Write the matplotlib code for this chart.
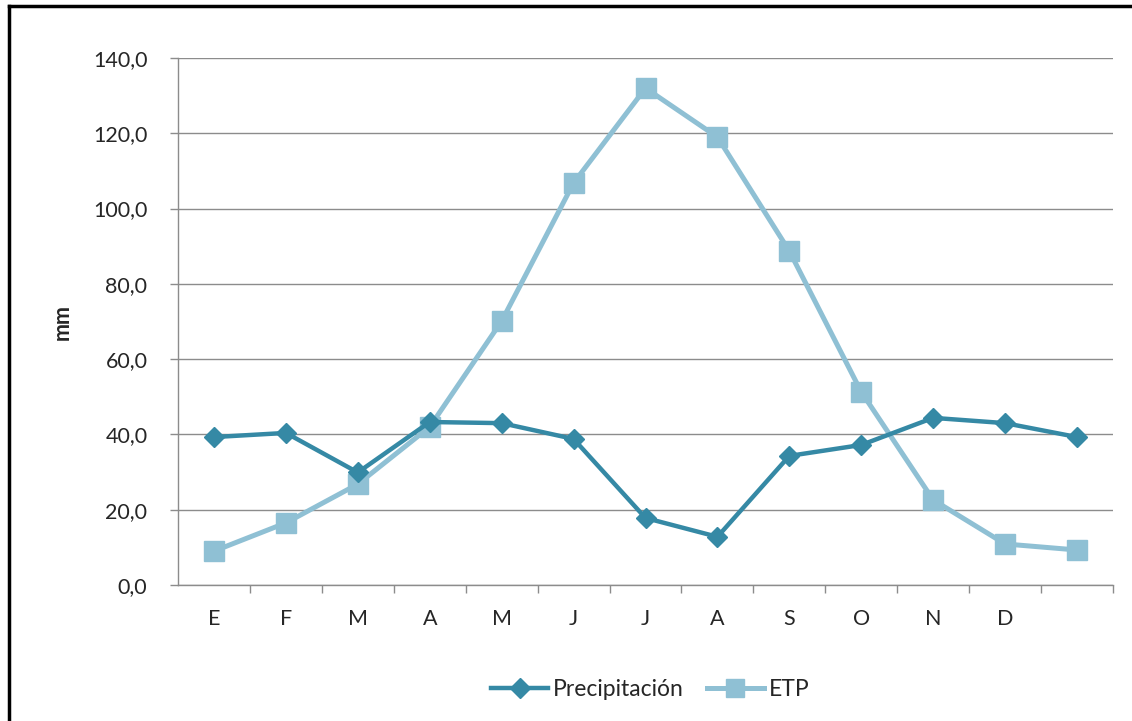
import matplotlib
matplotlib.use("Agg")
import matplotlib.pyplot as plt
from matplotlib.lines import Line2D

months = ["E", "F", "M", "A", "M", "J", "J", "A", "S", "O", "N", "D", ""]
precipitacion = [39.3, 40.4, 29.9, 43.3, 43.0, 38.8, 17.8, 12.8, 34.3, 37.2, 44.4, 43.0, 39.3]
etp = [9.0, 16.5, 26.8, 42.0, 70.1, 106.8, 132.0, 119.0, 88.7, 51.3, 22.6, 10.9, 9.3]
yticks = [0, 20, 40, 60, 80, 100, 120, 140]

W, H = 1132, 721
fig = plt.figure(figsize=(W / 100, H / 100), dpi=100)
plt.rcParams["font.family"] = ["Lato", "DejaVu Sans"]
fs = 15.5

ax = fig.add_axes([178 / W, 1 - 585 / H, (1113 - 178) / W, (585 - 58) / H])
x = list(range(len(months)))
c1 = "#3589A5"
c2 = "#8FC0D4"
ax.plot(x, etp, color=c2, lw=3.6, marker="s", ms=14, mec=c2, mfc=c2, label="ETP", zorder=3)
ax.plot(x, precipitacion, color=c1, lw=3.2, marker="D", ms=10, mec=c1, mfc=c1, label="Precipitación", zorder=4)

ax.set_xlim(-0.5, len(months) - 0.5)
ax.set_ylim(0, 140)
ax.set_yticks(yticks)
ax.set_yticklabels([f"{v:.1f}".replace(".", ",") for v in yticks])
ax.set_xticks(x)
ax.set_xticklabels(months)
ax.set_xticks([i + 0.5 for i in range(len(months))], minor=True)

grid_c = "#8c8c8c"
ax.grid(axis="y", color=grid_c, lw=1.0)
ax.set_axisbelow(True)
for s in ["top", "right"]:
    ax.spines[s].set_visible(False)
for s in ["left", "bottom"]:
    ax.spines[s].set_color(grid_c)
    ax.spines[s].set_linewidth(1.0)

txt_c = "#262626"
ax.tick_params(axis="x", which="major", length=0, pad=17, labelsize=fs, labelcolor=txt_c)
ax.tick_params(axis="x", which="minor", length=6, width=1, color=grid_c, direction="out")
ax.tick_params(axis="y", length=6, width=1, color=grid_c, pad=16, labelsize=fs, labelcolor=txt_c)

fig.text(62 / W, 1 - 322 / H, "mm", rotation=90, ha="center", va="center",
         fontsize=fs, fontweight="bold", color=txt_c)

h1 = Line2D([], [], color=c1, lw=3.2, marker="D", ms=10, mec=c1, mfc=c1)
h2 = Line2D([], [], color=c2, lw=3.6, marker="s", ms=13, mec=c2, mfc=c2)
fig.legend([h1, h2], ["Precipitación", "ETP"], loc="center",
           bbox_to_anchor=(650 / W, 1 - 690 / H), ncol=2, frameon=False,
           fontsize=16.5, handlelength=2.5, handletextpad=0.2, columnspacing=1.0,
           labelcolor=txt_c)

# outer frame (cropped on right/bottom)
fig.add_artist(Line2D([9 / W, 9 / W], [0, 1 - 6 / H], transform=fig.transFigure, color="black", lw=2.5))
fig.add_artist(Line2D([9 / W, 1], [1 - 6 / H, 1 - 6 / H], transform=fig.transFigure, color="black", lw=2.5))

fig.savefig("out.png", dpi=100)
